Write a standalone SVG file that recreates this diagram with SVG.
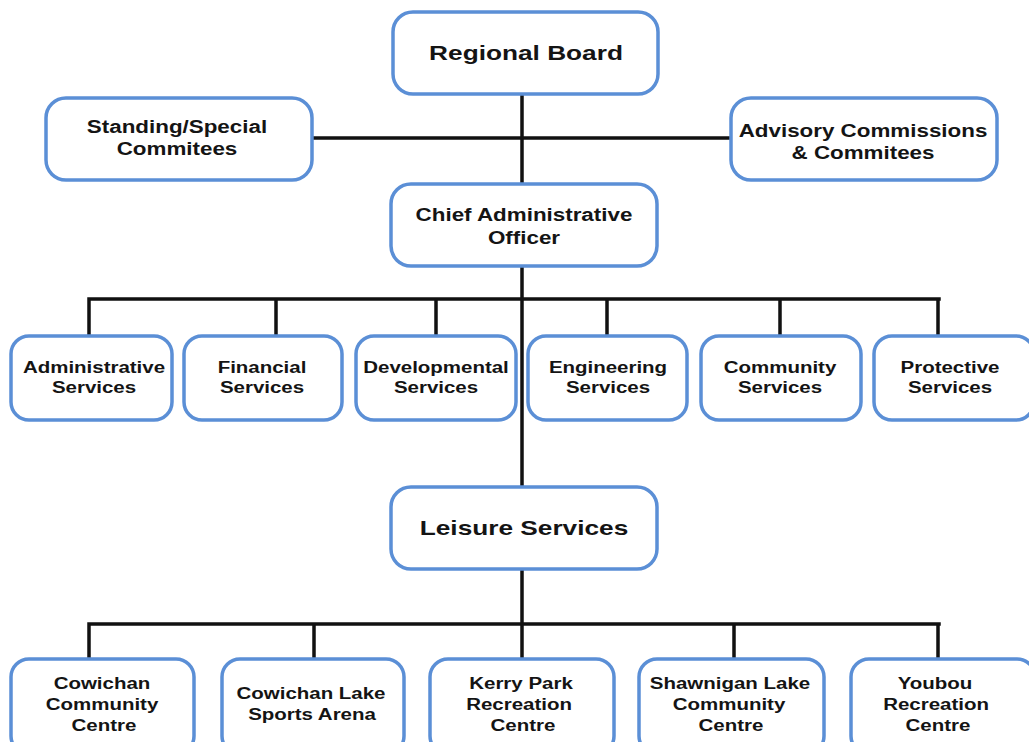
<svg xmlns="http://www.w3.org/2000/svg" width="1029" height="742" viewBox="0 0 1029 742">
<style>
.box{fill:#fff;stroke:#5b8fd6;stroke-width:3.5}
.ln{stroke:#111;stroke-width:3.5;fill:none;stroke-linecap:square}
text{font-family:"Liberation Sans",Arial,sans-serif;font-weight:bold;fill:#141414;text-anchor:middle}
.l{font-size:20.5px}
.m{font-size:17.5px}
.s{font-size:16px}
</style>
<rect width="1029" height="742" fill="#fff"/>
<g id="connectors">
<path class="ln" d="M522 94V184M313 138H730M522 266V487M89 299H939M89 299V336M276 299V336M436 299V336M607 299V336M780 299V336M938 299V336M522 569V624M89 624H939M89 624V659M314 624V659M522 624V659M734 624V659M938 624V659"/>
</g>
<g id="regional-board"><rect class="box" x="393" y="12" width="265" height="82" rx="20"/><text class="l" transform="translate(526,60) scale(1.28,1)">Regional Board</text></g>
<g id="standing"><rect class="box" x="46" y="98" width="266" height="82" rx="20"/><text class="m" transform="translate(177,133) scale(1.28,1)">Standing/Special</text><text class="m" transform="translate(177,155) scale(1.28,1)">Commitees</text></g>
<g id="advisory"><rect class="box" x="731" y="98" width="266" height="82" rx="20"/><text class="m" transform="translate(863,137) scale(1.28,1)">Advisory Commissions</text><text class="m" transform="translate(863,159) scale(1.28,1)">&amp; Commitees</text></g>
<g id="cao"><rect class="box" x="391" y="184" width="266" height="82" rx="20"/><text class="m" transform="translate(524,221) scale(1.28,1)">Chief Administrative</text><text class="m" transform="translate(524,244) scale(1.28,1)">Officer</text></g>
<g id="admin"><rect class="box" x="11" y="336" width="161" height="84" rx="18"/><text class="s" transform="translate(94,373) scale(1.28,1)">Administrative</text><text class="s" transform="translate(94,393) scale(1.28,1)">Services</text></g>
<g id="financial"><rect class="box" x="184" y="336" width="158" height="84" rx="18"/><text class="s" transform="translate(262,373) scale(1.28,1)">Financial</text><text class="s" transform="translate(262,393) scale(1.28,1)">Services</text></g>
<g id="developmental"><rect class="box" x="356" y="336" width="160" height="84" rx="18"/><text class="s" transform="translate(436,373) scale(1.28,1)">Developmental</text><text class="s" transform="translate(436,393) scale(1.28,1)">Services</text></g>
<g id="engineering"><rect class="box" x="528" y="336" width="159" height="84" rx="18"/><text class="s" transform="translate(608,373) scale(1.28,1)">Engineering</text><text class="s" transform="translate(608,393) scale(1.28,1)">Services</text></g>
<g id="community"><rect class="box" x="701" y="336" width="160" height="84" rx="18"/><text class="s" transform="translate(780,373) scale(1.28,1)">Community</text><text class="s" transform="translate(780,393) scale(1.28,1)">Services</text></g>
<g id="protective"><rect class="box" x="874" y="336" width="160" height="84" rx="18"/><text class="s" transform="translate(950,373) scale(1.28,1)">Protective</text><text class="s" transform="translate(950,393) scale(1.28,1)">Services</text></g>
<g id="leisure"><rect class="box" x="391" y="487" width="266" height="82" rx="20"/><text class="l" transform="translate(524,535) scale(1.28,1)">Leisure Services</text></g>
<g id="cowichan"><rect class="box" x="11" y="659" width="183" height="95" rx="18"/><text class="s" transform="translate(102,689) scale(1.28,1)">Cowichan</text><text class="s" transform="translate(102,710) scale(1.28,1)">Community</text><text class="s" transform="translate(104,731) scale(1.28,1)">Centre</text></g>
<g id="cowichan-lake"><rect class="box" x="222" y="659" width="182" height="95" rx="18"/><text class="s" transform="translate(311,699) scale(1.28,1)">Cowichan Lake</text><text class="s" transform="translate(312,720) scale(1.28,1)">Sports Arena</text></g>
<g id="kerry-park"><rect class="box" x="430" y="659" width="184" height="95" rx="18"/><text class="s" transform="translate(521,689) scale(1.28,1)">Kerry Park</text><text class="s" transform="translate(519,710) scale(1.28,1)">Recreation</text><text class="s" transform="translate(523,731) scale(1.28,1)">Centre</text></g>
<g id="shawnigan"><rect class="box" x="639" y="659" width="185" height="95" rx="18"/><text class="s" transform="translate(730,689) scale(1.28,1)">Shawnigan Lake</text><text class="s" transform="translate(729,710) scale(1.28,1)">Community</text><text class="s" transform="translate(731,731) scale(1.28,1)">Centre</text></g>
<g id="youbou"><rect class="box" x="851" y="659" width="184" height="95" rx="18"/><text class="s" transform="translate(935,689) scale(1.28,1)">Youbou</text><text class="s" transform="translate(936,710) scale(1.28,1)">Recreation</text><text class="s" transform="translate(938,731) scale(1.28,1)">Centre</text></g>
</svg>
